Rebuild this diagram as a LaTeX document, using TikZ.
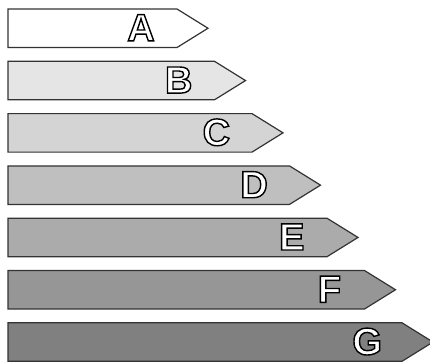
\documentclass[tikz,border=0pt]{standalone}
\usepackage{fontspec}
\setmainfont{Liberation Sans}
\definecolor{cA}{gray}{1.0}
\definecolor{cB}{gray}{0.90}
\definecolor{cC}{gray}{0.83}
\definecolor{cD}{gray}{0.75}
\definecolor{cE}{gray}{0.67}
\definecolor{cF}{gray}{0.59}
\definecolor{cG}{gray}{0.50}
\definecolor{edge}{gray}{0.2}
\newcommand{\outl}[1]{\special{pdf:literal direct 2 Tr 1.4 w 0 G 1 g}#1\special{pdf:literal direct 0 Tr}}
\tikzset{
  bar/.style={draw=edge, line width=1.2pt, line join=miter},
  lettr/.style={inner sep=0pt, font=\bfseries\fontsize{38}{38}\selectfont},
}
\begin{document}
\begin{tikzpicture}[x=1pt,y=-1pt]
\useasboundingbox (0,0) rectangle (430,361);
\foreach \i/\L in {0/A,1/B,2/C,3/D,4/E,5/F,6/G} {
  \pgfmathsetmacro\t{9+52.3*\i}
  \pgfmathsetmacro\b{\t+38.5}
  \pgfmathsetmacro\m{\t+19.25}
  \pgfmathsetmacro\r{177+37.5*\i}
  \pgfmathsetmacro\p{\r+31}
  \pgfmathsetmacro\lx{141+37.7*\i}
  \draw[bar, fill=c\L] (8,\t) -- (\r,\t) -- (\p,\m) -- (\r,\b) -- (8,\b) -- cycle;
  \node[lettr] (l\L) at (\lx,\m-0.5) {\outl{\L}};
}
\end{tikzpicture}
\end{document}
